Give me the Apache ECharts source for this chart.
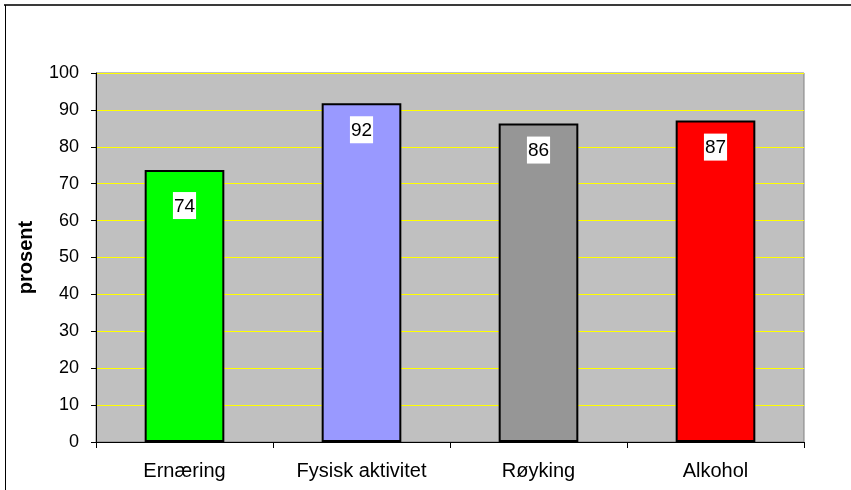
<!DOCTYPE html>
<html>
<head>
<meta charset="utf-8">
<script src="https://cdn.jsdelivr.net/npm/echarts@6/dist/echarts.min.js"></script>
<style>html,body{margin:0;padding:0;background:#fff;}#c{width:851px;height:490px;}</style>
</head>
<body>
<div id="c"></div>
<script>
const categories = ['Ernæring', 'Fysisk aktivitet', 'Røyking', 'Alkohol'];
const values = [73.7, 91.8, 86.3, 87.1];
const barColors = ['#00ff00', '#9999ff', '#969696', '#ff0000'];
const yTicks = [0, 10, 20, 30, 40, 50, 60, 70, 80, 90, 100];

const chart = echarts.init(document.getElementById('c'), null, {renderer: 'canvas'});
const font = 'Liberation Sans, Arial, sans-serif';
chart.setOption({
  animation: false,
  graphic: [
    {type: 'line', shape: {x1: 4, y1: 5, x2: 860, y2: 5}, style: {stroke: '#3a3a3a', lineWidth: 2}},
    {type: 'line', shape: {x1: 5.5, y1: 5, x2: 5.5, y2: 500}, style: {stroke: '#000', lineWidth: 1}}
  ],
  grid: {left: 96, right: 47, top: 73, bottom: 48, show: true, backgroundColor: '#c0c0c0', borderColor: '#808080', borderWidth: 1},
  xAxis: {
    type: 'category', data: categories,
    axisLine: {lineStyle: {color: '#000', width: 1}},
    axisTick: {show: true, length: 6, lineStyle: {color: '#000'}},
    axisLabel: {color: '#000', fontFamily: font, fontSize: 20, margin: 19}
  },
  yAxis: {
    type: 'value', min: 0, max: 100, interval: 10,
    name: 'prosent', nameLocation: 'middle', nameGap: 60, nameRotate: 90,
    nameTextStyle: {color: '#000', fontFamily: font, fontSize: 20, fontWeight: 'bold'},
    axisLine: {show: true, lineStyle: {color: '#000', width: 1}},
    axisTick: {show: true, length: 5, lineStyle: {color: '#000'}},
    axisLabel: {color: '#000', fontFamily: font, fontSize: 18, margin: 17,
      formatter: v => yTicks.includes(v) ? String(v) : ''},
    splitLine: {show: true, lineStyle: {color: '#ffff00', width: 1}}
  },
  series: [{
    type: 'bar',
    barCategoryGap: '55%',
    data: values.map((v, i) => ({
      value: v,
      itemStyle: {color: barColors[i]},
      label: i === 0 ? {distance: 22} : {}
    })),
    itemStyle: {borderColor: '#000', borderWidth: 2},
    label: {
      show: true, position: 'insideTop', distance: 13,
      formatter: p => String(Math.round(p.value)),
      color: '#000', fontFamily: font, fontSize: 19,
      backgroundColor: '#fff', padding: [5, 1, 3, 1]
    }
  }]
});
</script>
</body>
</html>
